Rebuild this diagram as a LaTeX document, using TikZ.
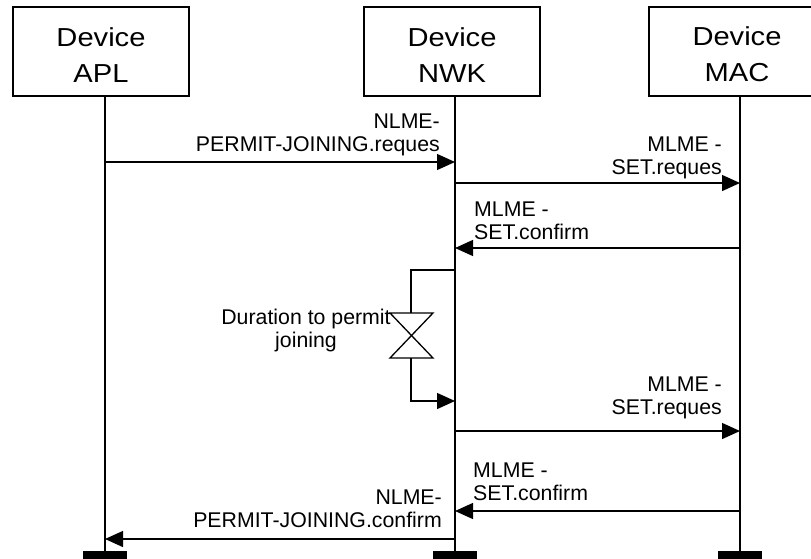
\documentclass[tikz,border=0pt]{standalone}
\usepackage{fontspec}
\setmainfont{Liberation Sans}
\newfontfamily\boxfont[FakeStretch=1.12]{Liberation Sans}
\usetikzlibrary{arrows.meta, positioning, calc}

\newcommand{\topstrut}{\rule{0pt}{25pt}}

\tikzset{
    layer/.style={draw, line width=1.3pt, minimum width=176pt, minimum height=89pt,
        inner sep=0pt, align=center, font=\boxfont\fontsize{26}{36}\selectfont},
    lifeline/.style={line width=1.5pt},
    msg/.style={line width=1.3pt, -{Triangle[length=18pt,width=16pt]}},
    lbl/.style={inner sep=0pt, font=\fontsize{21.3}{23}\selectfont},
    endbar/.style={fill=black, minimum width=44pt, minimum height=9pt, inner sep=0pt},
}

\begin{document}
\begin{tikzpicture}[x=1pt, y=-1pt]

    \useasboundingbox (0,0) rectangle (811,558);

    % layer boxes
    \node[layer] (apl) at (101,51.5) {\topstrut Device\\APL};
    \node[layer] (nwk) at (452,51.5) {\topstrut Device\\NWK};
    \node[layer] (mac) at (737,51.5) {\topstrut Device\\MAC};

    % lifelines
    \coordinate (apl-end) at (105,551);
    \coordinate (nwk-end) at (455,551);
    \coordinate (mac-end) at (740,551);
    \draw[lifeline] (apl.south -| apl-end) -- (apl-end);
    \draw[lifeline] (nwk.south -| nwk-end) -- (nwk-end);
    \draw[lifeline] (mac.south -| mac-end) -- (mac-end);
    \node[endbar, anchor=north] (apl-bar) at (apl-end) {};
    \node[endbar, anchor=north] (nwk-bar) at (nwk-end) {};
    \node[endbar, anchor=north] (mac-bar) at (mac-end) {};

    % permit joining request
    \coordinate (apl-r1) at (105,162);
    \coordinate (nwk-r1) at (455,162);
    \draw[msg] (apl-r1) -- (nwk-r1);
    \node[lbl, anchor=base east, align=right] (req-lbl) at (440,151) {NLME-\\PERMIT-JOINING.reques};

    % first set request / confirm
    \coordinate (nwk-s1) at (455,183);
    \coordinate (mac-s1) at (740,183);
    \draw[msg] (nwk-s1) -- (mac-s1);
    \node[lbl, anchor=base east, align=right] (set1-lbl) at (722,174) {MLME -\\SET.reques};

    \coordinate (mac-c1) at (740,248);
    \coordinate (nwk-c1) at (455,248);
    \draw[msg] (mac-c1) -- (nwk-c1);
    \node[lbl, anchor=base west, align=left] (conf1-lbl) at (474,239) {MLME -\\SET.confirm};

    % permit duration timer
    \coordinate (nwk-t1) at (455,270);
    \coordinate (nwk-t2) at (455,401);
    \draw[line width=1.3pt] (nwk-t1) -| (411,313);
    \draw[line width=1.3pt] (390,313) -- (433,313) -- (390,358) -- (433,358) -- cycle;
    \draw[msg] (411,358) |- (nwk-t2);
    \node[lbl, anchor=base, align=center] (dur-lbl) at (306,347) {Duration to permit\\joining};

    % second set request / confirm
    \coordinate (nwk-s2) at (455,431);
    \coordinate (mac-s2) at (740,431);
    \draw[msg] (nwk-s2) -- (mac-s2);
    \node[lbl, anchor=base east, align=right] (set2-lbl) at (722,414) {MLME -\\SET.reques};

    \coordinate (mac-c2) at (740,511);
    \coordinate (nwk-c2) at (455,511);
    \draw[msg] (mac-c2) -- (nwk-c2);
    \node[lbl, anchor=base west, align=left] (conf2-lbl) at (473,500) {MLME -\\SET.confirm};

    % permit joining confirm
    \coordinate (nwk-c3) at (455,539);
    \coordinate (apl-c3) at (105,539);
    \draw[msg] (nwk-c3) -- (apl-c3);
    \node[lbl, anchor=base east, align=right] (conf3-lbl) at (442,527) {NLME-\\PERMIT-JOINING.confirm};

\end{tikzpicture}
\end{document}
